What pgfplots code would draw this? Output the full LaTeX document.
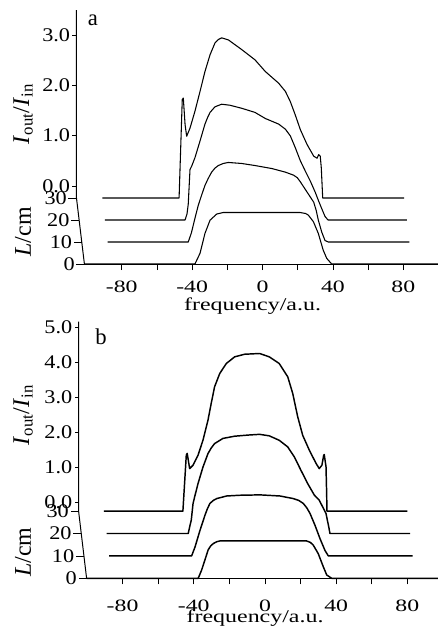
\documentclass[border=0pt]{standalone}
\usepackage{fontspec}
\setmainfont{Liberation Serif}
\usepackage{graphicx}
\usepackage{pgfplots}
\usepackage{pgfplotstable}
\pgfplotsset{compat=1.18}

% stretched tick-label text, as in the scanned figure
\newcommand{\tk}[1]{{\fontsize{13}{15}\selectfont\scalebox{1.37}[1]{#1}}}
\newcommand{\lk}[1]{{\fontsize{14.5}{16}\selectfont\scalebox{1.15}[1]{#1}}}

% ---- panel a: f = frequency (own frame), I = Iout/Iin
\pgfplotstableread{
f I
-101.2 0
-38.4 0
-35.5 0.21
-32.7 0.60
-29.8 0.86
-26.0 0.98
-22.3 1.01
-1.4 1.01
21.3 1.01
24.5 0.99
26.0 0.96
28.9 0.83
31.7 0.60
34.5 0.27
36.5 0.11
39.3 0
99.7 0
}\aZero
\pgfplotstableread{
f I
-86.5 0
-40.7 0
-38.9 0.18
-37.0 0.45
-35.0 0.72
-33.0 0.93
-31.2 1.11
-29.3 1.25
-27.4 1.37
-25.5 1.45
-23.6 1.50
-20.8 1.54
-17.9 1.56
-10.3 1.54
-2.8 1.50
6.9 1.44
14.5 1.37
19.2 1.31
21.3 1.26
23.0 1.18
26.8 0.98
30.6 0.78
32.0 0.62
33.2 0.43
35.1 0.20
37.0 0.03
38.9 0
85 0
}\aTen
\pgfplotstableread{
f I
-86.5 0
-41.0 0
-39.9 0.12
-39.2 0.31
-38.2 0.99
-37.2 1.06
-35.4 1.22
-32.5 1.55
-29.7 1.88
-28.2 2.01
-26.8 2.11
-24.0 2.22
-20.2 2.27
-15.5 2.25
-8.8 2.19
-1.3 2.11
4.6 1.99
12.2 1.88
16.0 1.78
18.8 1.65
21.6 1.42
24.5 1.16
27.3 0.96
30.2 0.76
33.0 0.54
34.9 0.37
36.8 0.21
38.5 0.07
40.2 0
85 0
}\aTwenty
\pgfplotstableread{
f I
-86.5 0
-42.9 0
-41.1 1.93
-40.5 1.96
-39.5 1.44
-38.6 1.21
-36.7 1.37
-33.9 1.70
-31.0 2.09
-28.2 2.48
-25.3 2.81
-22.5 3.04
-20.5 3.11
-18.7 3.14
-14.9 3.10
-7.3 2.91
0.2 2.71
6.1 2.48
13.7 2.25
17.5 2.09
20.3 1.89
23.1 1.63
26.0 1.34
29.8 1.05
33.6 0.82
35.5 0.78
36.4 0.85
37.3 0.82
37.9 0.59
38.7 0
85 0
}\aThirty

% ---- panel b
\pgfplotstableread{
f I
-100.2 0
-37.5 0
-35.6 0.22
-33.7 0.50
-31.9 0.77
-30.4 0.88
-29.0 0.94
-27.0 0.99
-25.3 1.01
-2.8 1.01
23.4 1.01
25.5 0.97
27.1 0.90
29.9 0.67
32.8 0.31
34.7 0.09
37.5 0
97.2 0
}\bZero
\pgfplotstableread{
f I
-86 0
-39.7 0
-37.8 0.24
-35.0 0.69
-32.2 1.10
-30.8 1.28
-29.4 1.42
-27.5 1.50
-25.6 1.55
-20.0 1.62
-12.5 1.64
-1.3 1.65
9.9 1.62
17.4 1.55
20.5 1.50
23.0 1.42
25.0 1.30
26.8 1.15
29.6 0.83
32.4 0.47
35.2 0.15
37.1 0
84.5 0
}\bTen
\pgfplotstableread{
f I
-86 0
-40.1 0
-39.2 0.20
-38.4 0.36
-37.4 0.81
-36.5 0.99
-34.6 1.35
-31.8 1.80
-29.0 2.16
-27.2 2.31
-25.3 2.43
-20.6 2.57
-14.0 2.63
-6.6 2.66
0.0 2.68
5.4 2.64
11.0 2.52
15.8 2.34
19.5 2.07
23.2 1.71
27.0 1.35
30.7 1.04
33.5 0.90
35.4 0.72
37.3 0.54
39.0 0.14
39.5 0
84.5 0
}\bTwenty
\pgfplotstableread{
f I
-86 0
-41.6 0
-39.7 1.51
-39.2 1.56
-37.8 1.15
-35.9 1.24
-33.1 1.51
-30.3 1.92
-27.5 2.46
-25.7 2.91
-23.8 3.36
-20.9 3.72
-17.2 3.99
-12.5 4.17
-6.9 4.24
1.5 4.26
6.9 4.17
12.5 3.99
17.3 3.63
20.1 3.18
22.9 2.55
25.7 2.05
29.4 1.65
33.2 1.29
35.0 1.15
36.5 1.24
37.5 1.51
37.8 1.53
38.8 1.20
39.2 0.39
39.3 0
84.5 0
}\bThirty

\pgfplotsset{
  waterfall/.style={
    clip=false, axis on top,
    axis x line*=bottom, axis y line=none, ytick=\empty,
    xtick={-80,-40,0,40,80},
    xticklabels={\tk{-80},\tk{-40},\tk{0},\tk{40},\tk{80}},
    minor xtick={-60,-20,20,60},
    tick align=outside, major tick length=4.5pt, minor tick length=4.5pt,
    every tick/.style={black, line width=0.6pt},
    x axis line style={line width=0.75pt, -},
    xticklabel style={yshift=-5pt},
  },
  trace/.style={black, line width=0.8pt, fill=white, line join=round, mark=none},
}

\begin{document}
\begin{tikzpicture}
\useasboundingbox (0,0) rectangle (328.5pt,-471.75pt);

% ================= panel a =================
\begin{axis}[waterfall, at={(63.3pt,-198pt)}, anchor=south west,
  x=1.32pt, y=38.25pt, xmin=-101.2, xmax=99.7, ymin=0, ymax=4.98]
\addplot[trace] table[x expr=\thisrow{f}-4.5, y expr=\thisrow{I}+1.294] {\aThirty};
\addplot[trace] table[x expr=\thisrow{f}-3.0, y expr=\thisrow{I}+0.863] {\aTwenty};
\addplot[trace] table[x expr=\thisrow{f}-1.5, y expr=\thisrow{I}+0.431] {\aTen};
\addplot[trace] table[x expr=\thisrow{f}, y expr=\thisrow{I}] {\aZero};
\draw[line width=0.75pt] (axis cs:-101.2,0) -- (axis cs:-105.7,1.294) -- (axis cs:-105.7,4.98);
\pgfplotsinvokeforeach{0,10,20,30}{
  \draw[line width=0.6pt] (axis cs:{-101.2-0.15*#1},{0.04314*#1}) -- ++(-6pt,0pt)
    node[left, inner sep=1pt] {\lk{#1}};
}
\pgfplotsinvokeforeach{0,1,2,3}{
  \draw[line width=0.6pt] (axis cs:-105.7,{1.53+0.986*#1}) -- ++(-3pt,0pt)
    node[left, inner sep=1.5pt] {\lk{#1.0}};
}
\end{axis}

% ================= panel b =================
\begin{axis}[waterfall, at={(64.95pt,-433.725pt)}, anchor=south west,
  x=1.335pt, y=27.75pt, xmin=-100.2, xmax=97.2, ymin=0, ymax=6.94,
  xticklabel style={yshift=-3.5pt}]
\addplot[trace, line width=1.1pt] table[x expr=\thisrow{f}-4.5, y expr=\thisrow{I}+1.816] {\bThirty};
\addplot[trace, line width=1.1pt] table[x expr=\thisrow{f}-3.0, y expr=\thisrow{I}+1.211] {\bTwenty};
\addplot[trace, line width=1.1pt] table[x expr=\thisrow{f}-1.5, y expr=\thisrow{I}+0.605] {\bTen};
\addplot[trace, line width=1.1pt] table[x expr=\thisrow{f}, y expr=\thisrow{I}] {\bZero};
\draw[line width=0.75pt] (axis cs:-100.2,0) -- (axis cs:-104.7,1.816) -- (axis cs:-104.7,6.94);
\pgfplotsinvokeforeach{0,10,20,30}{
  \draw[line width=0.6pt] (axis cs:{-100.2-0.15*#1},{0.06054*#1}) -- ++(-6pt,0pt)
    node[left, inner sep=1pt] {\lk{#1}};
}
\pgfplotsinvokeforeach{0,1,2,3,4,5}{
  \draw[line width=0.6pt] (axis cs:-104.7,{2.06+0.946*#1}) -- ++(-3pt,0pt)
    node[left, inner sep=1.5pt] {\lk{#1.0}};
}
\end{axis}

% ----- labels
\node[font=\fontsize{13.5}{15}\selectfont] at (189.4pt,-229.8pt) {\scalebox{1.33}[1]{frequency/a.u.}};
\node[font=\fontsize{13.5}{15}\selectfont] at (191.3pt,-463.3pt) {\scalebox{1.33}[1]{frequency/a.u.}};
\node[rotate=90, font=\fontsize{18}{20}\selectfont] at (17.25pt,-85.5pt) {\textit{I}\textsubscript{out}/\textit{I}\textsubscript{in}};
\node[rotate=90, font=\fontsize{18}{20}\selectfont] at (17.25pt,-174pt) {\textit{L}/cm};
\node[rotate=90, font=\fontsize{18}{20}\selectfont] at (17.25pt,-311.25pt) {\textit{I}\textsubscript{out}/\textit{I}\textsubscript{in}};
\node[rotate=90, font=\fontsize{18}{20}\selectfont] at (17.25pt,-414pt) {\textit{L}/cm};
\node[font=\fontsize{17}{19}\selectfont] at (69.75pt,-15pt) {a};
\node[font=\fontsize{17}{19}\selectfont] at (75.75pt,-252.75pt) {b};
\end{tikzpicture}
\end{document}
